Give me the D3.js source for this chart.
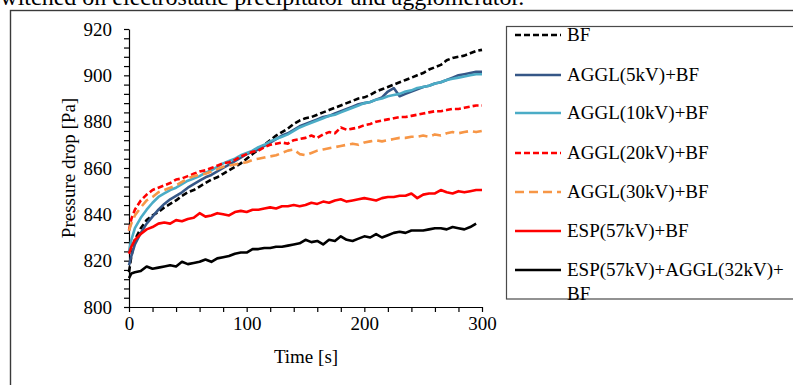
<!DOCTYPE html>
<html>
<head>
<meta charset="utf-8">
<script src="https://cdn.jsdelivr.net/npm/d3@7"></script>
<style>
  body { margin: 0; background: #fff; }
  svg { display: block; font-family: "Liberation Serif", "Times New Roman", serif; }
</style>
</head>
<body>
<div id="chart"></div>
<script>
// time axis (s)
const times = [0, 2, 5, 10, 15, 20, 25, 30, 35, 40, 45, 50, 55, 60, 65, 70, 75, 80, 85, 90, 95, 100,
  105, 110, 115, 120, 125, 130, 135, 140, 145, 150, 155, 160, 165, 170, 175, 180, 185, 190, 195, 200,
  205, 210, 215, 220, 225, 230, 235, 240, 245, 250, 255, 260, 265, 270, 275, 280, 285, 290, 295, 300];

// pressure drop [Pa]
const bf = [815, 822, 829, 834, 837.5, 839.5, 841, 843, 844.5, 846, 848, 849.5, 850.5, 852, 853.5, 855, 856, 857.5, 859, 860.5, 862, 864,
  866, 868, 870, 872, 874, 875.5, 877, 879, 880.5, 881.5, 882, 883, 884, 885, 886, 887, 888, 889, 890, 890.5,
  891.5, 893, 894, 895, 896, 897, 898, 899, 900, 901, 902.5, 903.5, 904.5, 906.5, 907.5, 908, 908.5, 909.5, 910.5, 911];
const aggl5 = [818, 822, 827, 832, 836, 839, 842, 844.5, 846.5, 848, 849.5, 851.5, 853, 854.5, 856, 857, 858.5, 860, 861.5, 863, 864.5, 866,
  867, 868, 869.5, 871, 872.5, 874, 875, 876.5, 878, 879, 880, 881, 882, 882.5, 883.5, 884.5, 885.5, 886.5, 887.5, 888,
  888.5, 889.5, 890.5, 893, 894.5, 891, 892, 893, 894, 895, 895.5, 896.5, 897, 898, 899, 900, 900.5, 901, 901.5, 901.5];
const aggl10 = [824, 829, 834, 838.5, 842, 845, 847.5, 849, 850.5, 851.5, 853, 854.5, 855.5, 856.5, 858, 859, 860.5, 862, 863, 864, 865.5, 866.5,
  867.5, 869, 870, 871.5, 872.5, 873.5, 874.5, 876, 877.5, 878.5, 879.5, 880.5, 881.5, 882.5, 883, 884, 885, 886, 887, 888,
  888.5, 889.5, 890, 891, 891.5, 892, 893, 893.5, 894.5, 895, 895.5, 896.5, 897, 898, 898.5, 899, 899.5, 900, 900.5, 900.5];
const aggl20 = [833, 838, 842, 846, 848.5, 850.5, 851.5, 852.5, 853.5, 855, 855.5, 856.5, 857.5, 858.5, 859, 860, 861, 862, 862.5, 863.5, 865, 866,
  867, 867.5, 869, 870, 870.5, 871, 870.5, 872, 872.5, 873, 874, 873, 874.5, 875.5, 875, 877.5, 876.5, 877, 877.5, 878.5,
  879, 880, 880.5, 881, 881.5, 882, 882, 882.5, 883, 883.5, 884, 884.5, 884.5, 885, 885.5, 885.5, 886, 886.5, 887, 887];
const aggl30 = [833, 836, 839.5, 843, 846, 847.5, 849.5, 850.5, 851.5, 852.5, 854, 855.5, 856.5, 857, 857.5, 858.5, 859.5, 860.5, 861, 861.5, 862, 862.5,
  863.5, 864, 864.5, 865, 865.5, 866.5, 867.5, 868, 866, 865.5, 866.5, 867.5, 868, 868.5, 869, 869.5, 870, 870.5, 870, 871,
  871.5, 872, 871.5, 872, 872.5, 873, 873, 873.5, 873.5, 874, 873.5, 874.5, 874, 875, 875.5, 875, 875.5, 876, 875.5, 876];
const esp = [823, 826, 829, 831.5, 833.5, 834.5, 836, 836.5, 836, 837.5, 837, 838, 838.5, 840.5, 839, 839.5, 840.5, 840, 839.5, 841, 841.5, 841,
  842, 842, 842.5, 843, 842.5, 843.5, 843.5, 844, 843.5, 844, 845, 844.5, 845.5, 845, 846, 846.5, 845.5, 846, 846.5, 847,
  846.5, 846, 847, 847.5, 847.5, 848, 848, 849, 847, 848.5, 849, 849, 850.5, 849.5, 849, 850, 849.5, 850, 850.5, 850.5];
// this run stops at 295 s
const espAggl = [812.5, 814.5, 815, 815.5, 817.5, 816.5, 817, 817.5, 818, 817.5, 819.5, 818.5, 819, 819.5, 820.5, 819.5, 821, 821.5, 822, 823, 823.5, 823.5,
  825, 825, 825.5, 825.5, 826, 826, 826.5, 827, 827.5, 829, 828, 828.5, 827, 829, 828.5, 830.5, 829, 828.5, 829.5, 830.5,
  830, 831.5, 830, 831, 832, 832.5, 832, 833, 833, 833, 833.5, 834, 834, 833.5, 834.5, 834, 833.5, 834.5, 836];

const names = ["BF", "AGGL(5kV)+BF", "AGGL(10kV)+BF", "AGGL(20kV)+BF", "AGGL(30kV)+BF", "ESP(57kV)+BF", "ESP(57kV)+AGGL(32kV)+BF"];
const colors = ["#000000", "#365787", "#4bacc6", "#ff0000", "#f79646", "#ff0000", "#000000"];
const dashes = ["6,3", null, null, "6,3", "9,5", null, null];
const values = [bf, aggl5, aggl10, aggl20, aggl30, esp, espAggl];

const W = 793, H = 385;
const svg = d3.select("#chart").append("svg").attr("width", W).attr("height", H);

// caption line cut off above the chart frame
svg.append("text")
   .attr("x", -9).attr("y", 5)
   .style("font-size", "24px")
   .text("switched on electrostatic precipitator and agglomerator.");

// chart frame (runs past the right and bottom edges)
svg.append("rect")
   .attr("x", 10.5).attr("y", 10.5).attr("width", 820).attr("height", 420)
   .attr("fill", "none").attr("stroke", "#3a3a3a").attr("stroke-width", 1.4);

const x = d3.scaleLinear().domain([0, 300]).range([129, 482]);
const y = d3.scaleLinear().domain([800, 920]).range([307, 29]);

const yAxis = d3.axisLeft(y)
    .tickValues(d3.range(800, 921, 4))
    .tickFormat(d => d % 20 === 0 ? d : "")
    .tickSize(5).tickSizeOuter(0).tickPadding(12);
const xAxis = d3.axisBottom(x)
    .tickValues(d3.range(0, 301, 20))
    .tickFormat(d => d % 100 === 0 ? d : "")
    .tickSize(5).tickSizeOuter(0).tickPadding(5);

const gy = svg.append("g").attr("transform", `translate(${x(0)},0)`).call(yAxis);
const gx = svg.append("g").attr("transform", `translate(0,${y(800)})`).call(xAxis);
[gy, gx].forEach(g => {
    g.selectAll("text").style("font-size", "19px").style("font-family", "Liberation Serif").attr("fill", "#000");
    g.selectAll("line, path").attr("stroke", "#000").attr("stroke-width", 1.2);
});

svg.append("text")
   .attr("transform", `translate(75,168) rotate(-90)`)
   .attr("text-anchor", "middle")
   .style("font-size", "19px")
   .text("Pressure drop [Pa]");
svg.append("text")
   .attr("x", 306).attr("y", 363)
   .attr("text-anchor", "middle")
   .style("font-size", "19px")
   .text("Time [s]");

// series
const line = d3.line().x((d, i) => x(times[i])).y(d => y(d));
values.forEach((v, k) => {
    svg.append("path")
       .datum(v)
       .attr("fill", "none")
       .attr("stroke", colors[k])
       .attr("stroke-width", 2.6)
       .attr("stroke-dasharray", dashes[k])
       .attr("stroke-linejoin", "round")
       .attr("d", line);
});

// legend
const lg = svg.append("g");
lg.append("rect")
  .attr("x", 506.5).attr("y", 26.5).attr("width", 320).attr("height", 272.5)
  .attr("fill", "#fff").attr("stroke", "#4a4a4a").attr("stroke-width", 1.2);
const rowY = [35, 75, 113, 153, 192, 231, 270];
names.forEach((n, k) => {
    lg.append("line")
      .attr("x1", 515).attr("x2", 561).attr("y1", rowY[k]).attr("y2", rowY[k])
      .attr("stroke", colors[k]).attr("stroke-width", 2.6)
      .attr("stroke-dasharray", dashes[k]);
    const t = lg.append("text").attr("x", 567).attr("y", rowY[k] + 6).style("font-size", "19px");
    if (n === "ESP(57kV)+AGGL(32kV)+BF") {
        t.text("ESP(57kV)+AGGL(32kV)+");
        lg.append("text").attr("x", 567).attr("y", rowY[k] + 30).style("font-size", "19px").text("BF");
    } else {
        t.text(n);
    }
});
</script>
</body>
</html>
